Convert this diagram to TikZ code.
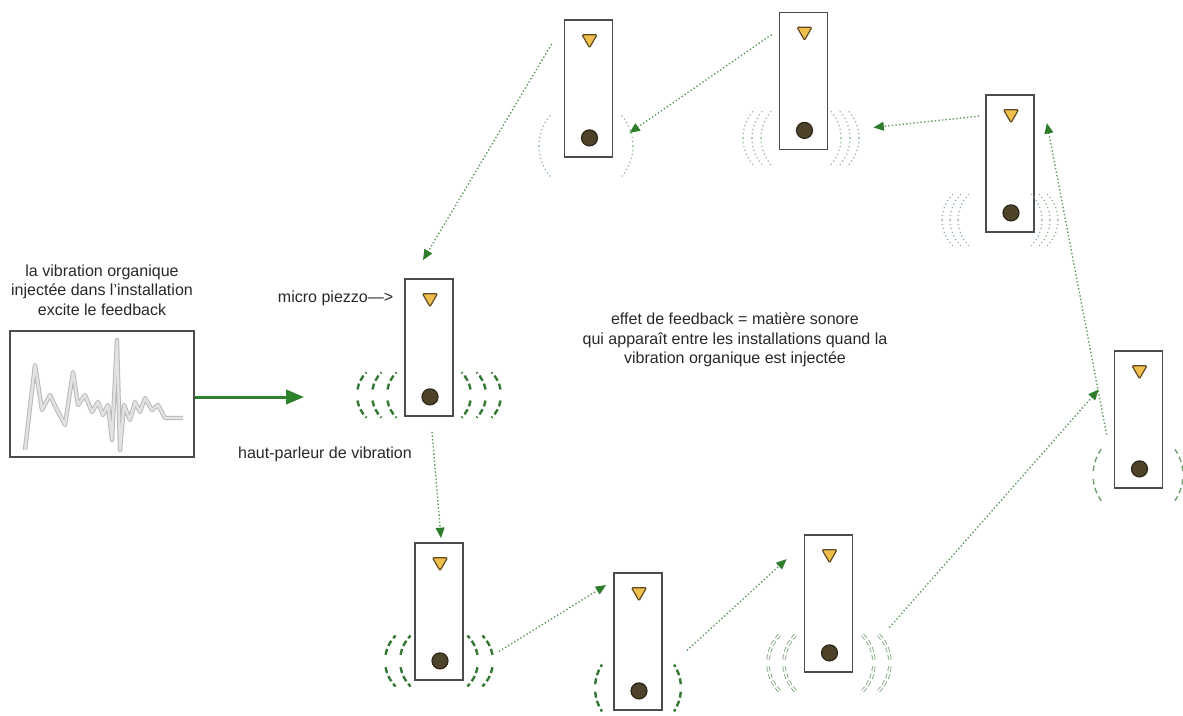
\documentclass[tikz,border=0pt]{standalone}
\usepackage{fontspec}
\setmainfont{Liberation Sans}
\usetikzlibrary{calc,arrows.meta,shapes.geometric}

\definecolor{fbline}{RGB}{95,155,95}
\definecolor{fbtip}{RGB}{45,125,45}
\definecolor{injgreen}{RGB}{45,130,45}
\definecolor{wavegreen}{RGB}{50,120,50}
\definecolor{wavelight}{RGB}{115,160,115}
\definecolor{wavedot}{RGB}{140,180,140}
\definecolor{micyellow}{RGB}{240,190,75}
\definecolor{micedge}{RGB}{95,75,35}
\definecolor{hpbrown}{RGB}{78,66,42}
\definecolor{hpedge}{RGB}{45,38,25}
\definecolor{txtgray}{RGB}{40,40,40}

% one installation: box, piezo on top, speaker at the bottom
\newcommand\inst[3]{%
  \node[inst] (#1) at (#2,-#3) {};
  \node[mic] (#1m) at ($(#1.north)+(1,-20)$) {};
  \node[hp] (#1h) at ($(#1.south)+(1,20)$) {};
}
% vibration arcs on both sides: style, cx, cy, offsets, radius, from, to
\newcommand\ondes[7]{%
  \foreach \o in {#4}{
    \draw[#1] (#2+\o,-#3) ++(#6:#5) arc[start angle=#6,end angle=#7,radius=#5];
    \draw[#1] (#2+\o,-#3) ++(-#6:#5) arc[start angle=-#6,end angle=-#7,radius=#5];
    \draw[#1] (#2-\o,-#3) ++(180-#6:#5) arc[start angle=180-#6,end angle=180-#7,radius=#5];
    \draw[#1] (#2-\o,-#3) ++(180+#6:#5) arc[start angle=180+#6,end angle=180+#7,radius=#5];
  }}

\begin{document}
\begin{tikzpicture}[x=0.25mm,y=0.25mm,font=\fontsize{11.4}{14}\selectfont]
  \tikzset{
    inst/.style={draw=black!70,line width=0.45mm,fill=white,minimum width=12mm,
                 minimum height=34.25mm,inner sep=0pt},
    mic/.style={regular polygon,regular polygon sides=3,shape border rotate=180,
                minimum size=4.3mm,inner sep=0pt,fill=micyellow,draw=micedge,
                line width=0.3mm,rounded corners=0.3mm},
    hp/.style={circle,minimum size=4mm,inner sep=0pt,fill=hpbrown,draw=hpedge,line width=0.3mm},
    txt/.style={text=txtgray,inner sep=1pt},
    fb/.style={draw=fbline,line width=0.35mm,dash pattern=on 0.35mm off 0.55mm,
               -{Triangle[length=2.6mm,width=2.2mm,color=fbtip]}},
    inj/.style={draw=injgreen,line width=0.75mm,-{Triangle[length=4.5mm,width=3.6mm]}},
    fort/.style={draw=wavegreen,line width=0.6mm,dash pattern=on 1.5mm off 0.8mm},
    moyen/.style={draw=wavelight,line width=0.2mm,double=white,double distance=0.45mm,
                  dash pattern=on 1.2mm off 0.7mm},
    faible/.style={draw=wavelight,line width=0.35mm,dash pattern=on 1.4mm off 0.9mm},
    pointe/.style={draw=wavedot,line width=0.3mm,dash pattern=on 0.3mm off 0.7mm},
    signal/.style={draw=gray!55,double=gray!22,double distance=0.6mm,line width=0.25mm,
                   line join=round}}
  \useasboundingbox (0,0) rectangle (1183,-716);

  % organic vibration
  \node[txt,align=center] (intro) at (102,-290) {la vibration organique\\injectée dans l'installation\\excite le feedback};
  \node[draw=black!70,line width=0.45mm,minimum width=46mm,minimum height=31.5mm] (wv) at (102,-394) {};
  \draw[signal] (25,-450) -- (35,-365) -- (42,-410) -- (50,-395) -- (57,-410) -- (65,-425)
    -- (73,-372) -- (78,-405) -- (85,-395) -- (92,-412) -- (98,-402) -- (103,-415)
    -- (108,-405) -- (112,-440) -- (117,-340) -- (120,-450) -- (124,-405) -- (130,-420)
    -- (135,-402) -- (140,-412) -- (145,-398) -- (152,-410) -- (158,-405) -- (165,-418)
    -- (183,-418);
  \coordinate (cible) at (304,-397);
  \draw[inj] (wv.east |- cible) -- (cible);

  % installations
  \inst{c0}{429}{347.5}
  \inst{b1}{439}{611.5}
  \inst{b2}{638}{641.5}
  \inst{b3}{828.5}{603.5}
  \inst{r}{1138.5}{419.5}
  \inst{t3}{1010}{163.5}
  \inst{t2}{803.5}{81}
  \inst{t1}{588.5}{88.5}

  % vibration around the speakers
  \ondes{fort}{429}{395}{10,25,40}{32}{10}{45}
  \ondes{fort}{439}{661}{3,18}{36}{10}{45}
  \ondes{fort}{638}{688}{0}{43}{5}{33}
  \ondes{moyen}{829}{663}{5,21}{40}{5}{45}
  \ondes{faible}{1138}{475}{0}{45}{5}{35}
  \ondes{pointe}{1000}{220}{6,14,22}{36}{0}{46}
  \ondes{pointe}{801}{138}{0,9,18}{40}{0}{46}
  \ondes{pointe}{586}{146}{0}{47}{0}{42}

  % texts
  \node[txt,anchor=east] (micro) at (395,-298) {micro piezzo--->};
  \node[txt] (hplbl) at (325,-454) {haut-parleur de vibration};
  \node[txt,align=center] (effet) at (735,-340) {effet de feedback = matière sonore\\qui apparaît entre les installations quand la\\vibration organique est injectée};

  % feedback path
  \draw[fb] ($(c0.south)+(3,-15)$) -- ($(b1.north)+(2,4)$);
  \draw[fb] ($(b1.east)+(35,-40)$) -- ($(b2.north west)+(-7,-13)$);
  \draw[fb] ($(b2.east)+(24,-9)$) -- ($(b3.north west)+(-17,-25)$);
  \draw[fb] ($(b3.east)+(36,-24)$) -- ($(r.west)+(-15,30)$);
  \draw[fb] ($(r.west)+(-7,-15)$) -- ($(t3.north east)+(12,-29)$);
  \draw[fb] ($(t3.north west)+(-6,-22)$) -- ($(t2.south east)+(45,23)$);
  \draw[fb] ($(t2.north west)+(-7,-23)$) -- ($(t1.south east)+(16,25)$);
  \draw[fb] ($(t1.north west)+(-12,-25)$) -- ($(c0.north)+(-6,18)$);
\end{tikzpicture}
\end{document}
